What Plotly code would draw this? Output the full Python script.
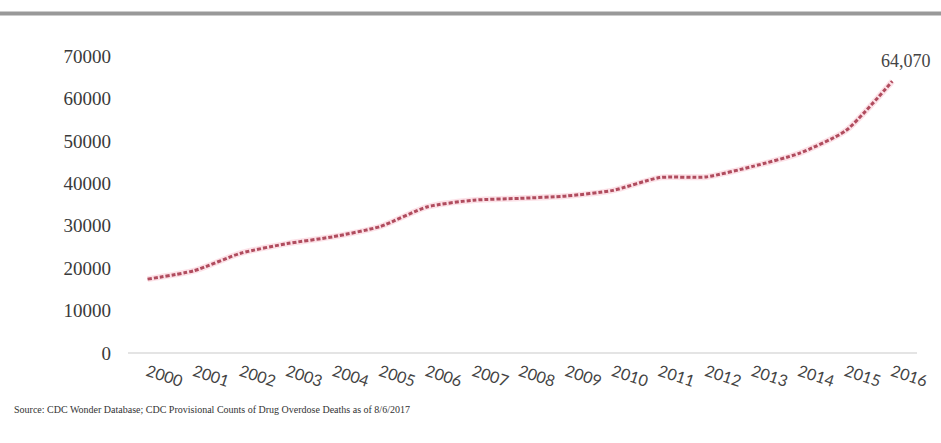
import plotly.graph_objects as go

years = [str(y) for y in range(2000, 2017)]
deaths = [17415, 19394, 23518, 25785, 27424, 29813, 34425, 36010, 36450,
          37004, 38329, 41340, 41502, 43982, 47055, 52404, 64070]
y_ticks = [0, 10000, 20000, 30000, 40000, 50000, 60000, 70000]
y_ticktext = [str(v) for v in y_ticks]
source_text = "Source: CDC Wonder Database; CDC Provisional Counts of Drug Overdose Deaths as of 8/6/2017"

fig = go.Figure()
fig.add_trace(go.Scatter(
    x=list(range(len(years))), y=deaths, mode="lines",
    line=dict(color="rgba(245,170,185,0.35)", width=6, shape="spline", smoothing=0.6),
    hoverinfo="skip", showlegend=False))
fig.add_trace(go.Scatter(
    x=list(range(len(years))), y=deaths, mode="lines",
    line=dict(color="#b04c5e", width=3, dash="4px,2px", shape="spline", smoothing=0.6),
    hoverinfo="skip", showlegend=False))

fig.add_annotation(x=16, y=deaths[-1], text=f"{deaths[-1]:,}", showarrow=False,
                   xanchor="center", yanchor="bottom", xshift=14, yshift=8,
                   font=dict(family="Liberation Serif", size=18, color="#444"))

fig.add_annotation(xref="paper", yref="paper", x=-0.147, y=-0.155, xanchor="left",
                   yanchor="top", text=source_text, showarrow=False,
                   font=dict(family="Liberation Serif", size=10, color="#333"))

fig.add_shape(type="line", xref="paper", yref="paper", x0=-0.2, x1=1.2,
              y0=1.085, y1=1.085, line=dict(color="#999999", width=4))

fig.update_layout(
    width=941, height=443,
    margin=dict(l=128, r=11, t=40, b=90),
    paper_bgcolor="white", plot_bgcolor="white",
    font=dict(family="Liberation Serif", color="#444"),
    xaxis=dict(tickmode="array", tickvals=list(range(len(years))), ticktext=years,
               range=[-0.42, 16.53], tickangle=18, showgrid=False, zeroline=False,
               showline=False, tickfont=dict(family="Lato", size=16, color="#444"),
               ticks="", ticklabelstandoff=6, ticklabeloverflow="allow"),
    yaxis=dict(range=[0, 73770], tickvals=y_ticks, ticktext=y_ticktext, showgrid=False,
               zeroline=True, zerolinecolor="#e4e4e4", zerolinewidth=2,
               tickfont=dict(size=19, color="#3a3a3a"), ticklabelstandoff=16, ticks=""),
)

fig.write_html("out.html")
